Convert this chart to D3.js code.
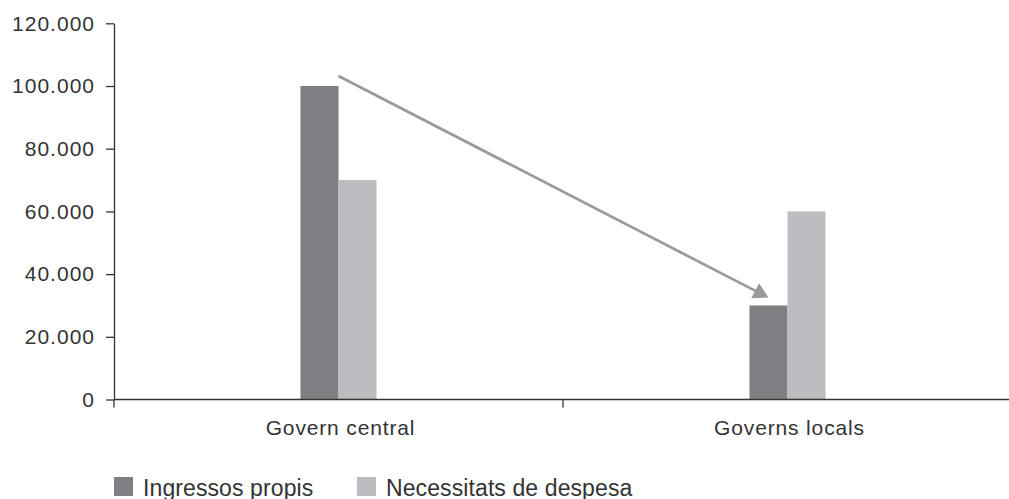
<!DOCTYPE html>
<html>
<head>
<meta charset="utf-8">
<script src="https://cdn.jsdelivr.net/npm/d3@7/dist/d3.min.js"></script>
<style>
  html, body { margin: 0; padding: 0; background: #fff; }
  svg { display: block; }
  text { font-family: "Liberation Sans", Arial, sans-serif; fill: #333; }
</style>
</head>
<body>
<svg id="chart" width="1009" height="499"></svg>
<script>
// Categories, series and values
const categories = ["Govern central", "Governs locals"];
const seriesNames = ["Ingressos propis", "Necessitats de despesa"];
const ingressosPropis = [100000, 30000];
const necessitatsDespesa = [70000, 60000];
const yTicks = [0, 20000, 40000, 60000, 80000, 100000, 120000];
const seriesColors = ["#7f7f83", "#bcbdc1"];

// Transfer arrow: from the central government group down to the local "own income" bar
const arrowFrom = { category: "Govern central", series: null, value: 103200 };
const arrowTo = { category: "Governs locals", series: "Ingressos propis", value: 32500 };

(function draw() {
  const svg = d3.select("#chart");

  const plotLeft = 114, plotRight = 1012, plotTop = 23.3, plotBottom = 399.5;

  const x0 = d3.scaleBand().domain(categories).range([plotLeft, plotRight]).padding(0);
  const groupWidth = 76;
  const x1 = d3.scaleBand().domain(seriesNames).range([0, groupWidth]).padding(0);
  const y = d3.scaleLinear().domain([0, 120000]).range([plotBottom, plotTop]);

  const locale = d3.formatLocale({ decimal: ",", thousands: ".", grouping: [3], currency: ["", "€"] });
  const fmt = locale.format(",d");

  const rows = categories.map((c, i) => ({
    category: c,
    values: [
      { series: seriesNames[0], value: ingressosPropis[i] },
      { series: seriesNames[1], value: necessitatsDespesa[i] }
    ]
  }));

  const groupStart = c => x0(c) + x0.bandwidth() / 2 - groupWidth / 2;

  // Bars
  const groups = svg.append("g").selectAll("g")
    .data(rows).join("g")
    .attr("transform", d => `translate(${groupStart(d.category)},0)`);

  groups.selectAll("rect")
    .data(d => d.values).join("rect")
    .attr("x", d => x1(d.series))
    .attr("width", x1.bandwidth())
    .attr("y", d => y(d.value))
    .attr("height", d => y(0) - y(d.value))
    .attr("fill", (d, i) => seriesColors[i]);

  // Y axis
  const yAxis = svg.append("g")
    .attr("transform", `translate(${plotLeft},0)`)
    .call(d3.axisLeft(y).tickValues(yTicks).tickFormat(fmt).tickSize(8).tickSizeOuter(0).tickPadding(11));
  yAxis.attr("font-family", null);
  yAxis.select(".domain").attr("stroke", "#333").attr("stroke-width", 1.3);
  yAxis.selectAll(".tick line").attr("stroke", "#333").attr("stroke-width", 1.3);
  yAxis.selectAll(".tick text")
    .style("font-size", "21px").style("letter-spacing", "1px").attr("fill", "#333");

  // X axis: baseline, boundary ticks between categories, and category labels
  const xAxis = svg.append("g").attr("transform", `translate(0,${plotBottom})`);
  xAxis.append("line")
    .attr("x1", plotLeft).attr("x2", plotRight)
    .attr("stroke", "#333").attr("stroke-width", 1.3);
  const boundaries = categories.map(c => x0(c)).concat([x0(categories[categories.length - 1]) + x0.bandwidth()]);
  xAxis.selectAll("line.bound")
    .data(boundaries).join("line")
    .attr("class", "bound")
    .attr("x1", d => d).attr("x2", d => d)
    .attr("y1", 0).attr("y2", 8)
    .attr("stroke", "#333").attr("stroke-width", 1.3);
  xAxis.selectAll("text")
    .data(categories).join("text")
    .attr("x", d => x0(d) + x0.bandwidth() / 2 + 2)
    .attr("y", 35.5)
    .attr("text-anchor", "middle")
    .style("font-size", "21px").style("letter-spacing", "0.85px")
    .text(d => d);

  // Arrow
  const arrowPoint = p => {
    const cx = p.series
      ? groupStart(p.category) + x1(p.series) + x1.bandwidth() / 2
      : x0(p.category) + x0.bandwidth() / 2;
    return [cx, y(p.value)];
  };
  const [ax, ay] = arrowPoint(arrowFrom);
  const [bx, by] = arrowPoint(arrowTo);
  const ang = Math.atan2(by - ay, bx - ax);
  const headLen = 15, headHalf = 8.5;
  const baseX = bx - headLen * Math.cos(ang), baseY = by - headLen * Math.sin(ang);
  const arrowColor = "#9a9a9a";
  svg.append("line")
    .attr("x1", ax).attr("y1", ay)
    .attr("x2", baseX + 2 * Math.cos(ang)).attr("y2", baseY + 2 * Math.sin(ang))
    .attr("stroke", arrowColor).attr("stroke-width", 2.7);
  svg.append("polygon")
    .attr("points", [
      [bx, by],
      [baseX - headHalf * Math.sin(ang), baseY + headHalf * Math.cos(ang)],
      [baseX + headHalf * Math.sin(ang), baseY - headHalf * Math.cos(ang)]
    ].map(p => p.join(",")).join(" "))
    .attr("fill", arrowColor);

  // Legend
  const legendX = [114, 357];
  const legend = svg.append("g").selectAll("g")
    .data(seriesNames).join("g")
    .attr("transform", (d, i) => `translate(${legendX[i]},477)`);
  legend.append("rect")
    .attr("width", 19).attr("height", 19)
    .attr("fill", (d, i) => seriesColors[i]);
  legend.append("text")
    .attr("x", 29).attr("y", 18.5)
    .style("font-size", "23px").style("letter-spacing", "0.1px")
    .text(d => d);
})();
</script>
</body>
</html>
